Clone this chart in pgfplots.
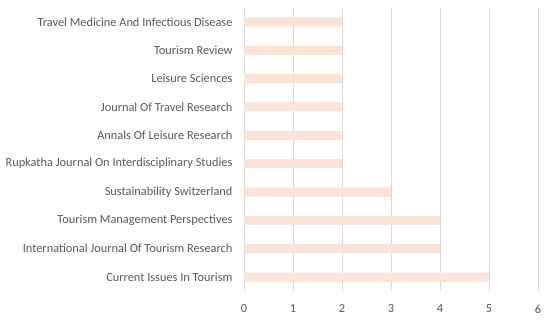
\documentclass[border=0pt]{standalone}
\usepackage{pgfplots}
\pgfplotsset{compat=1.18}
\usepackage{fontspec}
\setmainfont{Carlito}
\definecolor{barc}{HTML}{FBE3D6}
\definecolor{gridc}{HTML}{D9D9D9}
\definecolor{txt}{HTML}{595959}
\begin{document}
\begin{tikzpicture}
\path[use as bounding box] (-244bp,-30.8bp) rectangle (306bp,291.2bp);
\begin{axis}[
  at={(0,0)}, anchor=south west,
  scale only axis, width=294bp, height=283.4bp,
  xbar, bar width=9bp,
  xmin=0, xmax=6, ymin=-0.5, ymax=9.5,
  xtick={0,1,2,3,4,5,6},
  ytick={0,...,9},
  yticklabels={Current Issues In Tourism, International Journal Of Tourism Research, Tourism Management Perspectives, Sustainability Switzerland, Rupkatha Journal On Interdisciplinary Studies, Annals Of Leisure Research, Journal Of Travel Research, Leisure Sciences, Tourism Review, Travel Medicine And Infectious Disease},
  xmajorgrids, grid style={gridc, line width=0.8pt},
  axis x line=bottom, x axis line style={draw=none, -},
  axis y line=left, y axis line style={gridc, line width=0.8pt, -},
  major tick length=0pt,
  tick label style={font=\fontsize{12.4}{14}\selectfont, text=txt},
  /pgf/number format/assume math mode=true,
  xticklabel style={yshift=-10bp},
  yticklabel style={xshift=-8bp},
  clip=false,
]
\addplot[fill=barc, draw=none] coordinates {(5,0) (4,1) (4,2) (3,3) (2,4) (2,5) (2,6) (2,7) (2,8) (2,9)};
\end{axis}
\end{tikzpicture}
\end{document}
